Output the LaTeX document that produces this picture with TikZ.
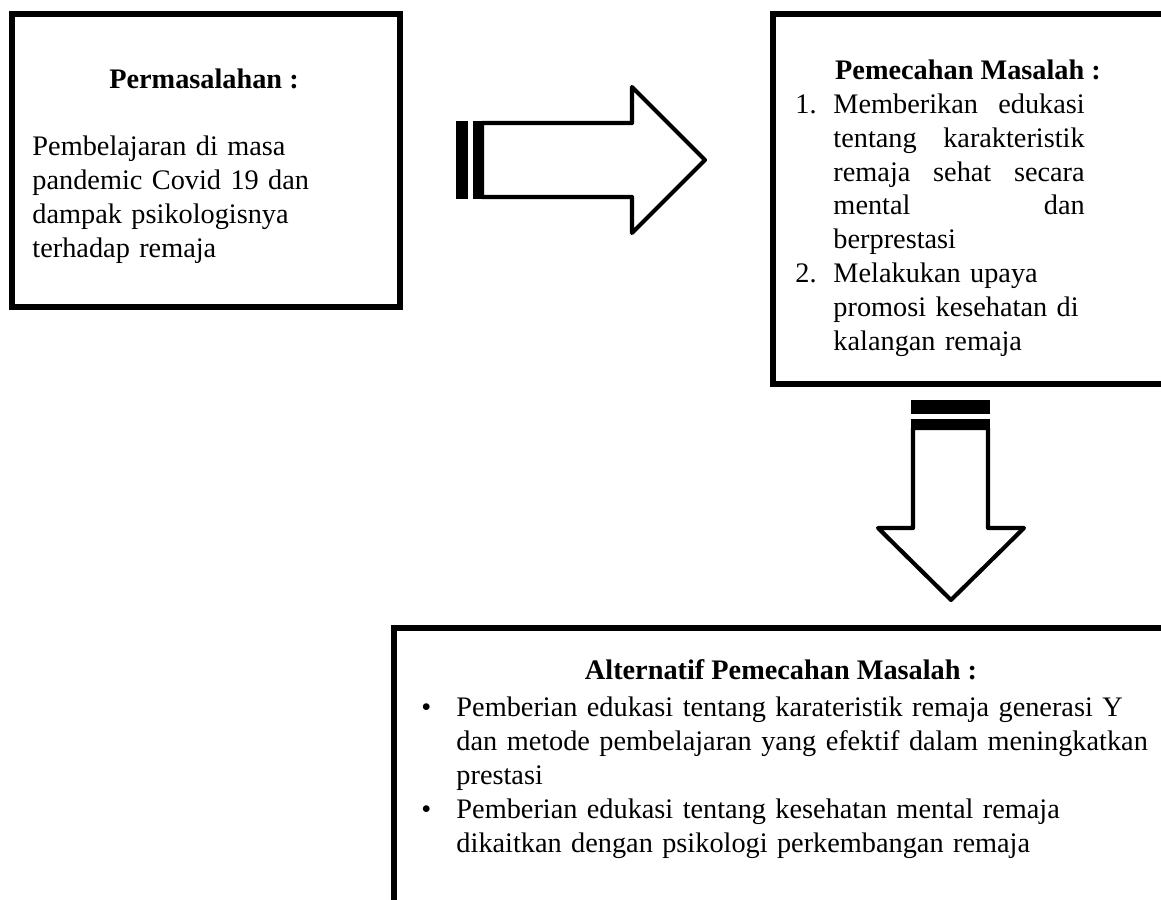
\documentclass[tikz,border=0pt]{standalone}
\usepackage{fontspec}
\setmainfont{Liberation Serif}
\usetikzlibrary{fit}

\begin{document}
\begin{tikzpicture}[x=0.41pt, y=-0.41pt]

    % Define the styles for the nodes
    \tikzstyle{frame} = [draw, line width=2.2pt, inner sep=0pt]
    \tikzstyle{txt} = [inner sep=0pt, font=\fontsize{11.6}{13.85}\selectfont]
    \tikzstyle{judul} = [inner sep=0pt, font=\fontsize{11.6}{13.85}\selectfont\bfseries]
    \tikzstyle{panah} = [draw, line width=1.7pt, line join=round, fill=white]
    \tikzstyle{garis} = [fill=black]

    \useasboundingbox (0,0) rectangle (1161,900);
    \clip (0,0) rectangle (1161,900);

    % Boxes
    \node (masalah) [frame, fit={(12,14) (400,307)}] {};
    \node (pemecahan) [frame, fit={(773,14) (1175,384)}] {};
    \node (alternatif) [frame, fit={(394,628) (1175,915)}] {};

    % Texts
    \node (masalahJudul) [judul, anchor=base] at (204,89) {Permasalahan :};
    \node (masalahIsi) [txt, anchor=base west, text width=125pt, align=left] at (32,156)
        {Pembelajaran di masa\\pandemic Covid 19 dan\\dampak psikologisnya\\terhadap remaja};

    \node (pemecahanJudul) [judul, anchor=base] at (968,80) {Pemecahan Masalah :};
    \node (no1) [txt, anchor=base west] at (795,113.5) {1.};
    \node (poin1) [txt, anchor=base west, text width=103pt, align=justify] at (833,113.5)
        {\hyphenpenalty=10000 Memberikan edukasi\linebreak tentang karakteristik\linebreak remaja sehat secara\linebreak mental dan\linebreak berprestasi};
    \node (no2) [txt, anchor=base west] at (795,282.5) {2.};
    \node (poin2) [txt, anchor=base west, text width=110pt, align=left] at (833,282.5)
        {Melakukan upaya\\promosi kesehatan di\\kalangan remaja};

    \node (alternatifJudul) [judul, anchor=base] at (781,680) {Alternatif Pemecahan Masalah :};
    \node (titik1) [txt, anchor=base west] at (421,717) {\textbullet};
    \node (poinA) [txt, anchor=base west, text width=300pt, align=left] at (456,717)
        {Pemberian edukasi tentang karateristik remaja generasi Y\\dan metode pembelajaran yang efektif dalam meningkatkan\\prestasi};
    \node (titik2) [txt, anchor=base west] at (421,818.5) {\textbullet};
    \node (poinB) [txt, anchor=base west, text width=300pt, align=left] at (456,818.5)
        {Pemberian edukasi tentang kesehatan mental remaja\\dikaitkan dengan psikologi perkembangan remaja};

    % Arrows
    \fill[garis] (456,121) rectangle (468,199);
    \fill[garis] (473,121) rectangle (482,199);
    \draw[panah] (482,123) -- (632,123) -- (632,87) -- (705,160) -- (632,233) -- (632,197) -- (482,197) -- cycle;

    \fill[garis] (911,400) rectangle (990,414);
    \fill[garis] (911,419) rectangle (990,428);
    \draw[panah] (913,428) -- (913,528) -- (878,528) -- (951,600) -- (1024,528) -- (988,528) -- (988,428) -- cycle;

\end{tikzpicture}
\end{document}
